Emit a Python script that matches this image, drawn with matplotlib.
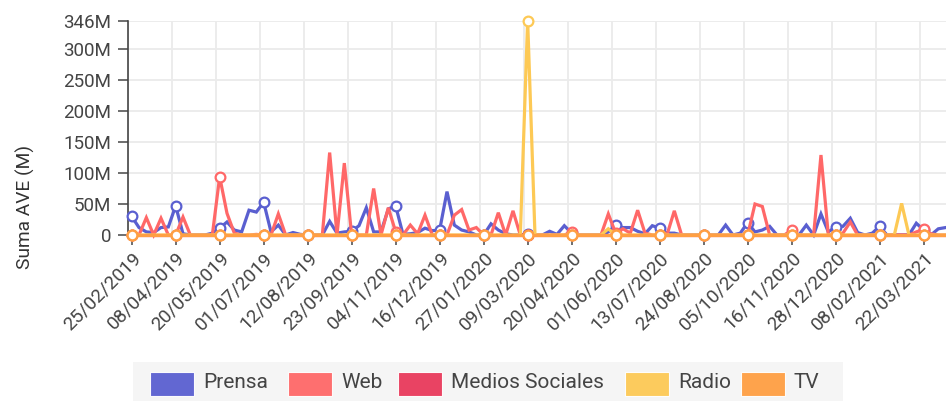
import matplotlib
matplotlib.use("Agg")
import matplotlib.pyplot as plt
from matplotlib.patches import Rectangle
import numpy as np
import datetime as dt

plt.rcParams['font.family'] = ['Roboto', 'DejaVu Sans']

# ---- data (millions), weekly from 25/02/2019 ----
start = dt.date(2019, 2, 25)
n_weeks = 112
dates = [start + dt.timedelta(weeks=i) for i in range(n_weeks)]
labels = [d.strftime("%d/%m/%Y") for d in dates]

prensa = [30, 12, 5, 4, 12, 13, 47, 2, 0, 0, 0, 3, 11, 21, 8, 5, 40, 37, 53, 5,
          16, 0, 4, 1, 0, 0, 0, 22, 3, 5, 6, 15, 44, 5, 5, 42, 47, 1, 2, 4,
          11, 7, 8, 70, 16, 8, 5, 0, 0, 18, 8, 2, 0, 0, 2, 0, 0, 6, 1, 15,
          3, 0, 0, 0, 0, 5, 16, 12, 12, 6, 2, 15, 11, 3, 3, 0, 0, 0, 0, 0,
          0, 16, 0, 3, 20, 5, 8, 14, 0, 0, 2, 0, 16, 0, 34, 5, 13, 14, 27, 4,
          0, 3, 14, 0, 0, 0, 0, 19, 8, 0, 10, 12]
web = [0, 0, 28, 0, 27, 0, 0, 29, 0, 0, 0, 0, 94, 35, 3, 0, 0, 1, 0, 0,
       34, 0, 0, 0, 0, 0, 0, 133, 0, 116, 0, 0, 0, 75, 0, 44, 5, 0, 16, 2,
       32, 0, 0, 0, 32, 41, 8, 12, 0, 0, 36, 0, 39, 0, 0, 0, 0, 0, 0, 0,
       5, 0, 0, 0, 0, 34, 3, 10, 3, 40, 3, 0, 0, 0, 39, 0, 0, 0, 0, 0,
       0, 0, 0, 0, 0, 50, 46, 0, 0, 0, 8, 0, 0, 0, 129, 0, 0, 3, 21, 0,
       0, 0, 0, 0, 0, 0, 0, 5, 9, 2, 0, 0]
medios = [0] * n_weeks
radio = [0] * n_weeks
radio[54] = 346
radio[65] = 10
radio[105] = 51
tv = [0] * n_weeks

series = [("Prensa", prensa, "#5a5fd0"),
          ("Web", web, "#ff6868"),
          ("Medios Sociales", medios, "#e9395b"),
          ("Radio", radio, "#fdc955"),
          ("TV", tv, "#ff9f43")]

yticks = [0, 50, 100, 150, 200, 250, 300, 346]
ytick_labels = ["0", "50M", "100M", "150M", "200M", "250M", "300M", "346M"]

W, H = 946, 401
fig = plt.figure(figsize=(W / 100, H / 100), dpi=100)
ax = fig.add_axes([128 / W, 1 - 235 / H, 818 / W, 214.5 / H])

x = np.arange(n_weeks)
step = 6
for name, vals, col in series:
    ax.plot(x, vals, color=col, lw=2.3, clip_on=False, solid_joinstyle='miter',
            marker='o', markevery=step, markersize=7, markerfacecolor='white',
            markeredgecolor=col, markeredgewidth=1.6, zorder=3)

ax.set_xlim(-0.5, 111.05)
ax.set_ylim(0, 346)

tick_idx = list(range(0, n_weeks, step))
ax.set_xticks(tick_idx)
ax.set_xticklabels([labels[i] for i in tick_idx], rotation=45, ha='right',
                   rotation_mode='anchor', fontsize=13.7, color='#444444')
ax.set_xticks([i - 0.5 for i in tick_idx], minor=True)
ax.set_yticks(yticks)
ax.set_yticklabels(ytick_labels, fontsize=13.5, color='#444444')

ax.grid(False)
ax.xaxis.grid(True, which='minor', color='#ebebeb', lw=1.3)
ax.yaxis.grid(True, which='major', color='#ebebeb', lw=1.3)
ax.set_axisbelow(True)
ax.tick_params(axis='x', which='major', length=7, width=1.2, color='#555555', pad=3)
ax.tick_params(axis='x', which='minor', length=0)
ax.tick_params(axis='y', length=7, width=1.2, color='#555555', pad=5)
for s in ['top', 'right']:
    ax.spines[s].set_visible(False)
ax.spines['left'].set_color('#444444')
ax.spines['left'].set_linewidth(1.2)
ax.spines['bottom'].set_color('#ebebeb')

fig.text(25 / W, 1 - 207 / H, "Suma AVE (M)", rotation=90, ha='center', va='center',
         fontsize=13.8, color='#333333')

# legend (manual, figure pixel coordinates)
fig.patches.append(Rectangle((133 / W, 0), (843 - 133) / W, (401 - 362) / H,
                             transform=fig.transFigure, facecolor='#f5f5f5',
                             edgecolor='none', zorder=0))
sw_x = [150, 288, 398, 625, 741]
for (name, vals, col), sx in zip(series, sw_x):
    fig.patches.append(Rectangle((sx / W, 1 - 396 / H), 44 / W, 24 / H,
                                 transform=fig.transFigure, facecolor=col,
                                 edgecolor='white', lw=0.8, alpha=0.95, zorder=1))
    fig.text((sx + 53) / W, 1 - 383 / H, name, ha='left', va='center',
             fontsize=15, color='#444444')

fig.savefig("out.png", dpi=100)
